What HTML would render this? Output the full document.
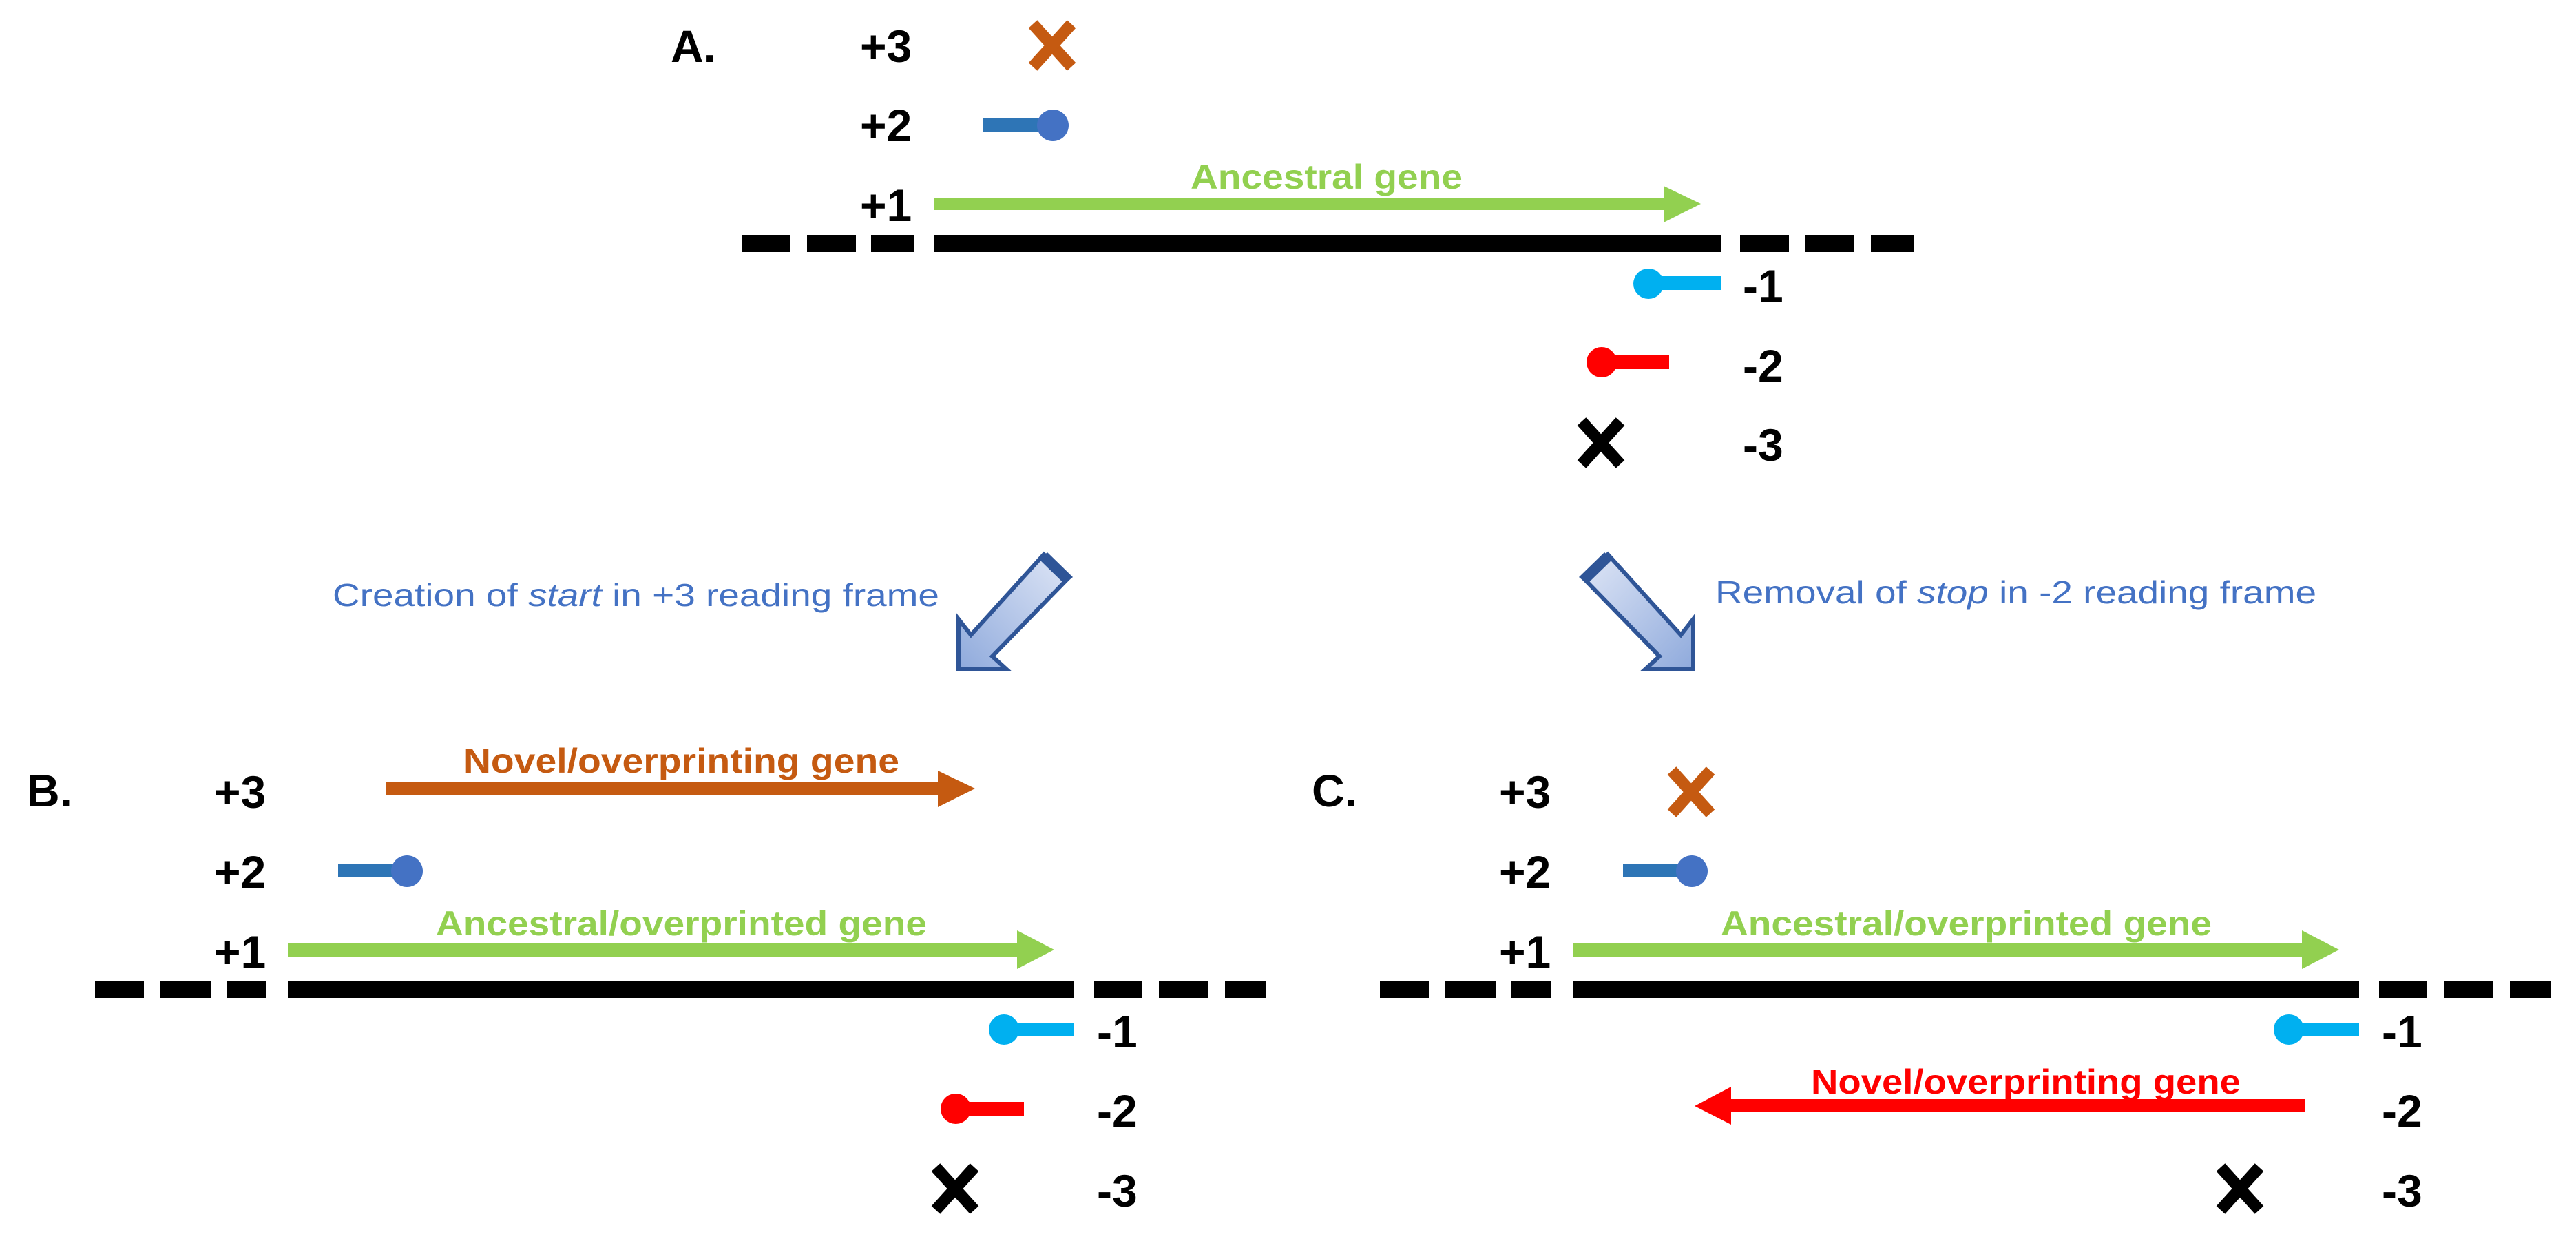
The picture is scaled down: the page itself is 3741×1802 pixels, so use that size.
<!DOCTYPE html>
<html><head><meta charset="utf-8"><style>
html,body{margin:0;padding:0;background:#fff;}
svg{display:block;}
text{font-family:"Liberation Sans",Arial,sans-serif;}
.l{font-weight:bold;font-size:66px;fill:#000;}
.g{font-weight:bold;font-size:50px;}
.n{font-size:46px;fill:#4472c4;}
</style></head><body>
<svg width="3741" height="1802" viewBox="0 0 3741 1802" xmlns="http://www.w3.org/2000/svg">
<defs>
<linearGradient id="ag" x1="0" y1="0" x2="1" y2="1">
<stop offset="0" stop-color="#dfe6f6"/><stop offset="1" stop-color="#8faadc"/></linearGradient>
<linearGradient id="ag2" x1="1" y1="0" x2="0" y2="1">
<stop offset="0" stop-color="#dfe6f6"/><stop offset="1" stop-color="#8faadc"/></linearGradient>
</defs>

<!-- Panel A -->
<text class="l" x="974" y="90">A.</text>
<text class="l" x="1249" y="90">+3</text>
<text class="l" x="1249" y="205">+2</text>
<text class="l" x="1249" y="321">+1</text>
<text class="l" x="2531" y="438">-1</text>
<text class="l" x="2531" y="554">-2</text>
<text class="l" x="2531" y="669">-3</text>
<g stroke="#c55a11" stroke-width="17"><line x1="1500" y1="35" x2="1556" y2="97"/><line x1="1556" y1="35" x2="1500" y2="97"/></g>
<rect x="1428" y="172" width="90" height="19" fill="#2e75b6"/><circle cx="1529" cy="182" r="23" fill="#4472c4"/>
<rect x="1356" y="287" width="1062" height="18" fill="#92d050"/><polygon points="2416,270 2470,296 2416,323" fill="#92d050"/>
<text class="g" x="1729" y="274" fill="#92d050" textLength="395" lengthAdjust="spacingAndGlyphs">Ancestral gene</text>
<g fill="#000">
<rect x="1077" y="341" width="71" height="25"/><rect x="1172" y="341" width="71" height="25"/><rect x="1265" y="341" width="62" height="25"/>
<rect x="1356" y="341" width="1143" height="25"/>
<rect x="2527" y="341" width="71" height="25"/><rect x="2622" y="341" width="71" height="25"/><rect x="2717" y="341" width="62" height="25"/>
</g>
<rect x="2394" y="401" width="105" height="20" fill="#00b0f0"/><circle cx="2394" cy="412" r="22" fill="#00b0f0"/>
<rect x="2326" y="516" width="98" height="20" fill="#ff0000"/><circle cx="2326" cy="526" r="22" fill="#ff0000"/>
<g stroke="#000" stroke-width="17"><line x1="2297" y1="612" x2="2353" y2="674"/><line x1="2353" y1="612" x2="2297" y2="674"/></g>

<!-- connector arrows -->
<g transform="translate(3851,0) scale(-1,1)">
<polygon points="2300,840 2335,805 2441,922 2459,899 2459,972 2389,972 2410,953" fill="url(#ag)" stroke="#2f5597" stroke-width="6" stroke-linejoin="miter"/>
<polygon points="2293,838 2330,802 2342,812 2305,848" fill="#2f5597"/>
</g>
<polygon points="2300,840 2335,805 2441,922 2459,899 2459,972 2389,972 2410,953" fill="url(#ag)" stroke="#2f5597" stroke-width="6" stroke-linejoin="miter"/>
<polygon points="2293,838 2330,802 2342,812 2305,848" fill="#2f5597"/>
<text class="n" x="483" y="880" textLength="881" lengthAdjust="spacingAndGlyphs">Creation of <tspan font-style="italic">start</tspan> in +3 reading frame</text>
<text class="n" x="2491" y="876" textLength="873" lengthAdjust="spacingAndGlyphs">Removal of <tspan font-style="italic">stop</tspan> in -2 reading frame</text>

<!-- Panel B -->
<text class="l" x="39" y="1171">B.</text>
<text class="l" x="311" y="1173">+3</text>
<text class="l" x="311" y="1289">+2</text>
<text class="l" x="311" y="1405">+1</text>
<text class="l" x="1593" y="1521">-1</text>
<text class="l" x="1593" y="1636">-2</text>
<text class="l" x="1593" y="1752">-3</text>
<rect x="561" y="1136" width="803" height="18" fill="#c55a11"/><polygon points="1362,1119 1416,1145 1362,1172" fill="#c55a11"/>
<text class="g" x="673" y="1122" fill="#c55a11" textLength="633" lengthAdjust="spacingAndGlyphs">Novel/overprinting gene</text>
<rect x="491" y="1255" width="90" height="19" fill="#2e75b6"/><circle cx="591" cy="1265" r="23" fill="#4472c4"/>
<rect x="418" y="1370" width="1061" height="19" fill="#92d050"/><polygon points="1477,1351 1531,1379 1477,1407" fill="#92d050"/>
<text class="g" x="633" y="1358" fill="#92d050" textLength="713" lengthAdjust="spacingAndGlyphs">Ancestral/overprinted gene</text>
<g fill="#000">
<rect x="138" y="1424" width="71" height="25"/><rect x="233" y="1424" width="73" height="25"/><rect x="329" y="1424" width="58" height="25"/>
<rect x="418" y="1424" width="1142" height="25"/>
<rect x="1589" y="1424" width="70" height="25"/><rect x="1683" y="1424" width="72" height="25"/><rect x="1779" y="1424" width="60" height="25"/>
</g>
<rect x="1458" y="1485" width="102" height="20" fill="#00b0f0"/><circle cx="1458" cy="1495" r="22" fill="#00b0f0"/>
<rect x="1388" y="1600" width="99" height="20" fill="#ff0000"/><circle cx="1388" cy="1610" r="22" fill="#ff0000"/>
<g stroke="#000" stroke-width="17"><line x1="1359" y1="1695" x2="1415" y2="1757"/><line x1="1415" y1="1695" x2="1359" y2="1757"/></g>

<!-- Panel C -->
<g transform="translate(1866,0)">
<text class="l" x="39" y="1171">C.</text>
<text class="l" x="311" y="1173">+3</text>
<text class="l" x="311" y="1289">+2</text>
<text class="l" x="311" y="1405">+1</text>
<text class="l" x="1593" y="1521">-1</text>
<text class="l" x="1593" y="1636">-2</text>
<text class="l" x="1593" y="1752">-3</text>
<g stroke="#c55a11" stroke-width="17"><line x1="562" y1="1119" x2="618" y2="1181"/><line x1="618" y1="1119" x2="562" y2="1181"/></g>
<rect x="491" y="1255" width="90" height="19" fill="#2e75b6"/><circle cx="591" cy="1265" r="23" fill="#4472c4"/>
<rect x="418" y="1370" width="1061" height="19" fill="#92d050"/><polygon points="1477,1351 1531,1379 1477,1407" fill="#92d050"/>
<text class="g" x="633" y="1358" fill="#92d050" textLength="713" lengthAdjust="spacingAndGlyphs">Ancestral/overprinted gene</text>
<g fill="#000">
<rect x="138" y="1424" width="71" height="25"/><rect x="233" y="1424" width="73" height="25"/><rect x="329" y="1424" width="58" height="25"/>
<rect x="418" y="1424" width="1142" height="25"/>
<rect x="1589" y="1424" width="70" height="25"/><rect x="1683" y="1424" width="72" height="25"/><rect x="1779" y="1424" width="60" height="25"/>
</g>
<rect x="1458" y="1485" width="102" height="20" fill="#00b0f0"/><circle cx="1458" cy="1495" r="22" fill="#00b0f0"/>
<g stroke="#000" stroke-width="17"><line x1="1359" y1="1695" x2="1415" y2="1757"/><line x1="1415" y1="1695" x2="1359" y2="1757"/></g>
</g>
<rect x="2512" y="1596" width="835" height="19" fill="#ff0000"/><polygon points="2514,1578 2461,1606 2514,1633" fill="#ff0000"/>
<text class="g" x="2630" y="1588" fill="#ff0000" textLength="624" lengthAdjust="spacingAndGlyphs">Novel/overprinting gene</text>
</svg>
</body></html>
